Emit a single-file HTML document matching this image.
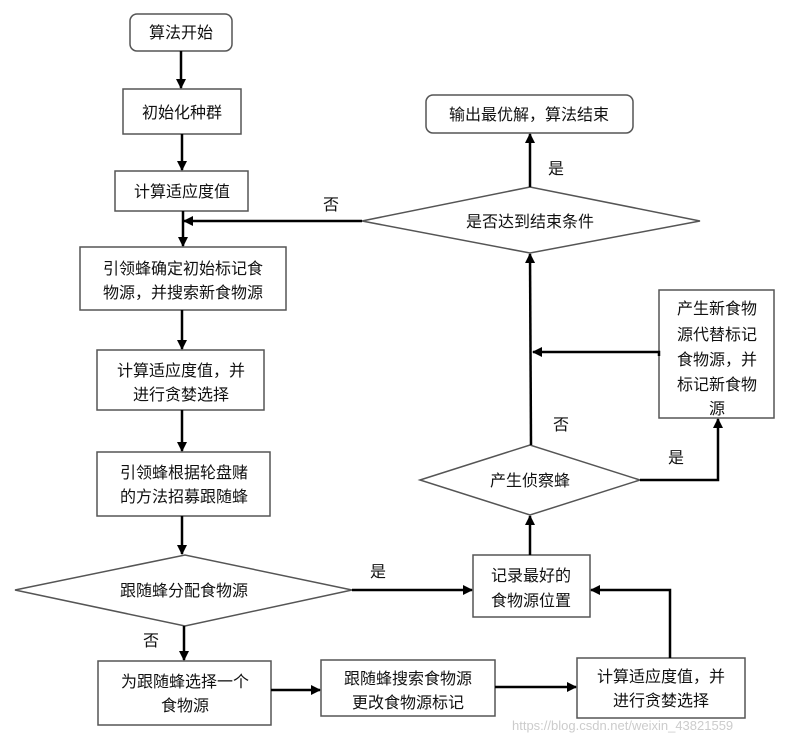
<!DOCTYPE html>
<html><head><meta charset="utf-8"><style>
body{margin:0;background:#fff}
text{font-family:"Liberation Sans","Noto Sans CJK SC",sans-serif;font-size:16px;fill:#111}
</style></head><body>
<svg width="794" height="741" xmlns="http://www.w3.org/2000/svg">
<defs><marker id="a" markerWidth="10" markerHeight="10" refX="9" refY="5" orient="auto" markerUnits="userSpaceOnUse"><path d="M0,0 L10,5 L0,10 z" fill="#000"/></marker></defs>
<g fill="#fff" stroke="#555" stroke-width="1.5">
<rect x="130" y="14" width="102" height="37" rx="7"/>
<rect x="123" y="89" width="118" height="45"/>
<rect x="115" y="171" width="133" height="40"/>
<rect x="80" y="247" width="206" height="63"/>
<rect x="97" y="350" width="167" height="60"/>
<rect x="97" y="452" width="173" height="64"/>
<polygon points="15,590 185,555 352,590 185,626"/>
<rect x="98" y="661" width="173" height="64"/>
<rect x="321" y="660" width="174" height="56"/>
<rect x="577" y="658" width="168" height="60"/>
<rect x="473" y="555" width="117" height="62"/>
<polygon points="420,480 530,445 640,480 530,515"/>
<rect x="659" y="290" width="115" height="128"/>
<polygon points="362,221 530,187 700,221 530,253"/>
<rect x="426" y="95" width="207" height="38" rx="7"/>
</g>
<g stroke="#000" stroke-width="2.5" fill="none" marker-end="url(#a)">
<line x1="181" y1="51" x2="181" y2="88"/>
<line x1="182" y1="134" x2="182" y2="170"/>
<line x1="183" y1="211" x2="183" y2="246"/>
<line x1="362" y1="221" x2="184" y2="221"/>
<line x1="182" y1="310" x2="182" y2="349"/>
<line x1="182" y1="410" x2="182" y2="451"/>
<line x1="182" y1="516" x2="182" y2="554"/>
<line x1="184" y1="626" x2="184" y2="660"/>
<line x1="352" y1="590" x2="472" y2="590"/>
<line x1="271" y1="690" x2="320" y2="690"/>
<line x1="495" y1="687" x2="576" y2="687"/>
<polyline points="670,658 670,590 591,590"/>
<line x1="530" y1="555" x2="530" y2="516"/>
<line x1="531" y1="445" x2="530" y2="254"/>
<polyline points="659,356 659,352 533,352"/>
<polyline points="640,480 718,480 718,419"/>
<line x1="530" y1="187" x2="530" y2="134"/>
</g>
<g text-anchor="middle">
<text x="181" y="38">算法开始</text>
<text x="182" y="118">初始化种群</text>
<text x="182" y="197">计算适应度值</text>
<text x="183" y="274">引领蜂确定初始标记食</text>
<text x="183" y="298">物源，并搜索新食物源</text>
<text x="181" y="376">计算适应度值，并</text>
<text x="181" y="400">进行贪婪选择</text>
<text x="184" y="478">引领蜂根据轮盘赌</text>
<text x="184" y="502">的方法招募跟随蜂</text>
<text x="184" y="596">跟随蜂分配食物源</text>
<text x="185" y="687">为跟随蜂选择一个</text>
<text x="185" y="711">食物源</text>
<text x="408" y="684">跟随蜂搜索食物源</text>
<text x="408" y="708">更改食物源标记</text>
<text x="661" y="682">计算适应度值，并</text>
<text x="661" y="706">进行贪婪选择</text>
<text x="531" y="581">记录最好的</text>
<text x="531" y="606">食物源位置</text>
<text x="530" y="486">产生侦察蜂</text>
<text x="717" y="314">产生新食物</text>
<text x="717" y="340">源代替标记</text>
<text x="717" y="365">食物源，并</text>
<text x="717" y="390">标记新食物</text>
<text x="717" y="414">源</text>
<text x="530" y="227">是否达到结束条件</text>
<text x="529" y="120">输出最优解，算法结束</text>
<text x="331" y="210">否</text>
<text x="556" y="174">是</text>
<text x="561" y="430">否</text>
<text x="676" y="463">是</text>
<text x="378" y="577">是</text>
<text x="151" y="646">否</text>
</g>
<text x="512" y="730" style="font-size:13px;fill:#ccc">https://blog.csdn.net/weixin_43821559</text>
</svg>
</body></html>
